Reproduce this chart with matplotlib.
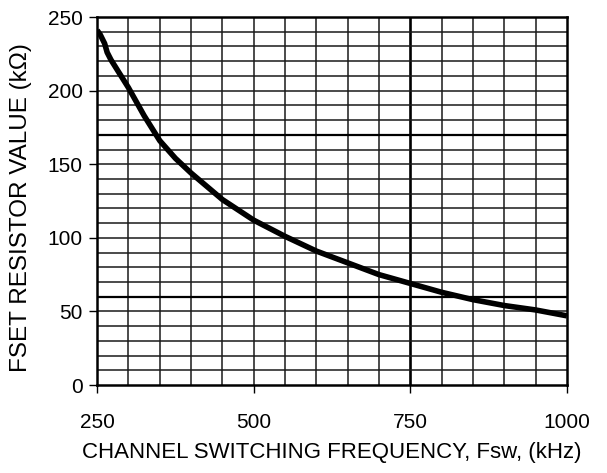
import matplotlib
matplotlib.use("Agg")
import matplotlib.pyplot as plt
import numpy as np

# Data
freq_khz = [250, 255, 262, 266, 272, 300, 325, 350, 375, 400, 450, 500, 550, 600, 650, 700, 750, 800, 850, 900, 950, 1000]
r_kohm = [241, 238, 232, 226, 221, 202, 183, 166, 154, 144, 126, 112, 101, 91, 83, 75, 69, 63, 58, 54, 51, 47]
x_ticks = [250, 500, 750, 1000]
y_ticks = [0, 50, 100, 150, 200, 250]
x_label = "CHANNEL SWITCHING FREQUENCY, Fsw, (kHz)"
y_label = "FSET RESISTOR VALUE (k\u03a9)"

plt.rcParams['font.family'] = ['Liberation Sans', 'DejaVu Sans']

fig = plt.figure(figsize=(6.07, 4.73), dpi=100)
ax = fig.add_axes([0.160, 0.186, 0.774, 0.778])

ax.set_xlim(250, 1000)
ax.set_ylim(0, 250)

# grid
for xv in np.arange(300, 1000, 50):
    heavy = xv == 750
    ax.axvline(xv, color='black' if heavy else '#1a1a1a', lw=1.9 if heavy else 1.1, zorder=1)
for yv in np.arange(10, 250, 10):
    heavy = yv in (60, 170)
    ax.axhline(yv, color='black' if heavy else '#1a1a1a', lw=1.6 if heavy else 1.1, zorder=1)

ax.plot(freq_khz, r_kohm, color='black', lw=4, solid_capstyle='butt',
        solid_joinstyle='round', zorder=3)

ax.set_xticks(x_ticks)
ax.set_yticks(y_ticks)
ax.tick_params(direction='out', length=5.5, width=1, labelsize=15, colors='black')
ax.tick_params(axis='x', pad=15)
ax.tick_params(axis='y', pad=5)
for s in ax.spines.values():
    s.set_linewidth(1.8)
    s.set_color('black')

ax.set_xlabel(x_label, fontsize=16)
ax.xaxis.set_label_coords(0.5, -0.155)
ax.set_ylabel(y_label, fontsize=17.5)
ax.yaxis.set_label_coords(-0.138, 0.482)

fig.savefig("out.png", dpi=100)
